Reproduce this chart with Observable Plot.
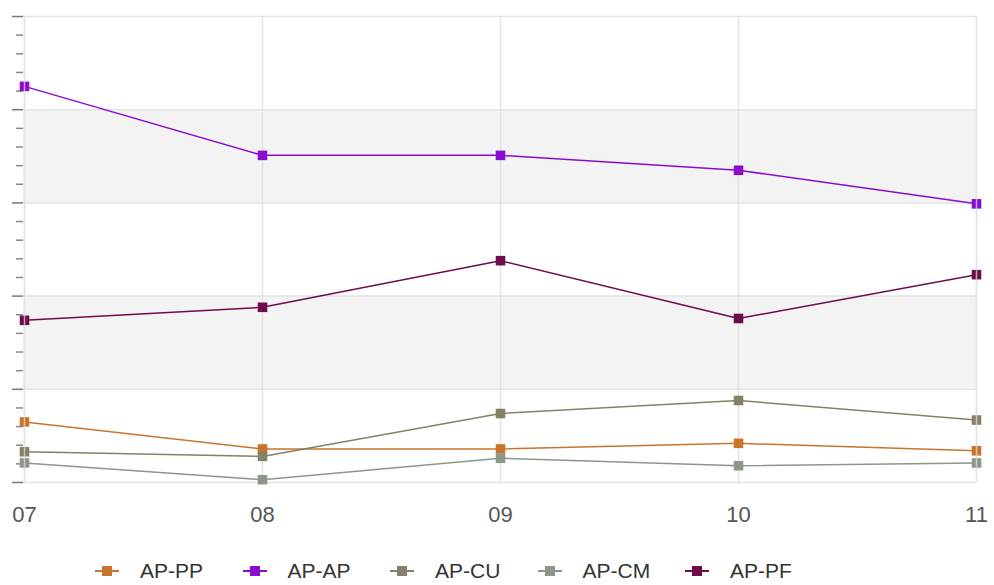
<!DOCTYPE html>
<html>
<head>
<meta charset="utf-8">
<script src="https://cdn.jsdelivr.net/npm/d3@7"></script>
<script src="https://cdn.jsdelivr.net/npm/@observablehq/plot@0.6"></script>
<style>
  html, body { margin: 0; padding: 0; background: #fff; }
  body { width: 994px; height: 585px; overflow: hidden; font-family: "Liberation Sans", Arial, sans-serif; }
  #legend { display: flex; gap: 0; margin-left: 94px; margin-top: 29px; }
  .item { display: flex; align-items: center; width: 147.5px; font-size: 21px; color: #333; }
  .sw { position: relative; width: 26px; height: 14px; margin-right: 20px; }
  .sw .ln { position: absolute; left: 1px; right: 1px; top: 6px; height: 1.5px; }
  .sw .sq { position: absolute; left: 8px; top: 2px; width: 10px; height: 10px; }
</style>
</head>
<body>
<div id="chart"></div>
<div id="legend"></div>
<script>
const years = ["07", "08", "09", "10", "11"];
const seriesNames = ["AP-PP", "AP-AP", "AP-CU", "AP-CM", "AP-PF"];
const seriesColors = ["#c8742c", "#8b0ccc", "#858066", "#8e968a", "#6e0d4d"];
const apPP = [0.65, 0.36, 0.36, 0.42, 0.34];
const apAP = [4.25, 3.51, 3.51, 3.35, 2.99];
const apCU = [0.33, 0.28, 0.74, 0.88, 0.67];
const apCM = [0.21, 0.03, 0.26, 0.18, 0.21];
const apPF = [1.74, 1.88, 2.38, 1.76, 2.23];
const majorTicks = [0, 1, 2, 3, 4, 5];
const bands = [[1, 2], [3, 4]];

const seriesValues = [apPP, apAP, apCU, apCM, apPF];
const data = [];
seriesNames.forEach((s, i) => years.forEach((y, j) => data.push({series: s, year: y, value: seriesValues[i][j]})));
const minorTicks = d3.range(0, 5.001, 0.2).map(v => +v.toFixed(2)).filter(v => Math.abs(v - Math.round(v)) > 1e-6);
const bandData = bands.map(([a, b]) => ({y1: a, y2: b}));
const colorScale = {domain: seriesNames, range: seriesColors};

const chart = Plot.plot({
  width: 994,
  height: 530,
  marginTop: 16,
  marginBottom: 48,
  marginLeft: 23,
  marginRight: 18,
  style: {fontFamily: "Liberation Sans, Arial, sans-serif", fontSize: "22px", color: "#555", background: "#fff"},
  x: {type: "point", domain: years, padding: 0, label: null},
  y: {domain: [0, 5], label: null},
  color: colorScale,
  marks: [
    Plot.rect(bandData, {y1: "y1", y2: "y2", fill: "#f3f3f3"}),
    Plot.ruleY(majorTicks, {stroke: "#e3e3e3", strokeWidth: 1.5}),
    Plot.ruleX(years, {stroke: "#e3e3e3", strokeWidth: 1.5}),
    Plot.axisY(majorTicks, {tickSize: 11, tickFormat: () => "", stroke: "#777", strokeWidth: 1.5}),
    Plot.axisY(minorTicks, {tickSize: 7, tickFormat: () => "", stroke: "#888", strokeWidth: 1.5}),
    Plot.axisX(years, {tickSize: 0, tickPadding: 24, fill: "#555", fontSize: 22}),
    Plot.line(data, {x: "year", y: "value", z: "series", stroke: "series", strokeWidth: 1.5}),
    Plot.dot(data, {x: "year", y: "value", fill: "series", symbol: "square", r: 5.4}),
    Plot.ruleX([years[0], years[years.length - 1]], {stroke: "#e3e3e3", strokeWidth: 1.5, strokeOpacity: 0.7})
  ]
});
document.getElementById("chart").appendChild(chart);

const legend = document.getElementById("legend");
seriesNames.forEach((s, i) => {
  const it = document.createElement("div");
  it.className = "item";
  it.innerHTML = `<span class="sw"><span class="ln" style="background:${seriesColors[i]}"></span><span class="sq" style="background:${seriesColors[i]}"></span></span><span>${s}</span>`;
  legend.appendChild(it);
});
</script>
</body>
</html>
